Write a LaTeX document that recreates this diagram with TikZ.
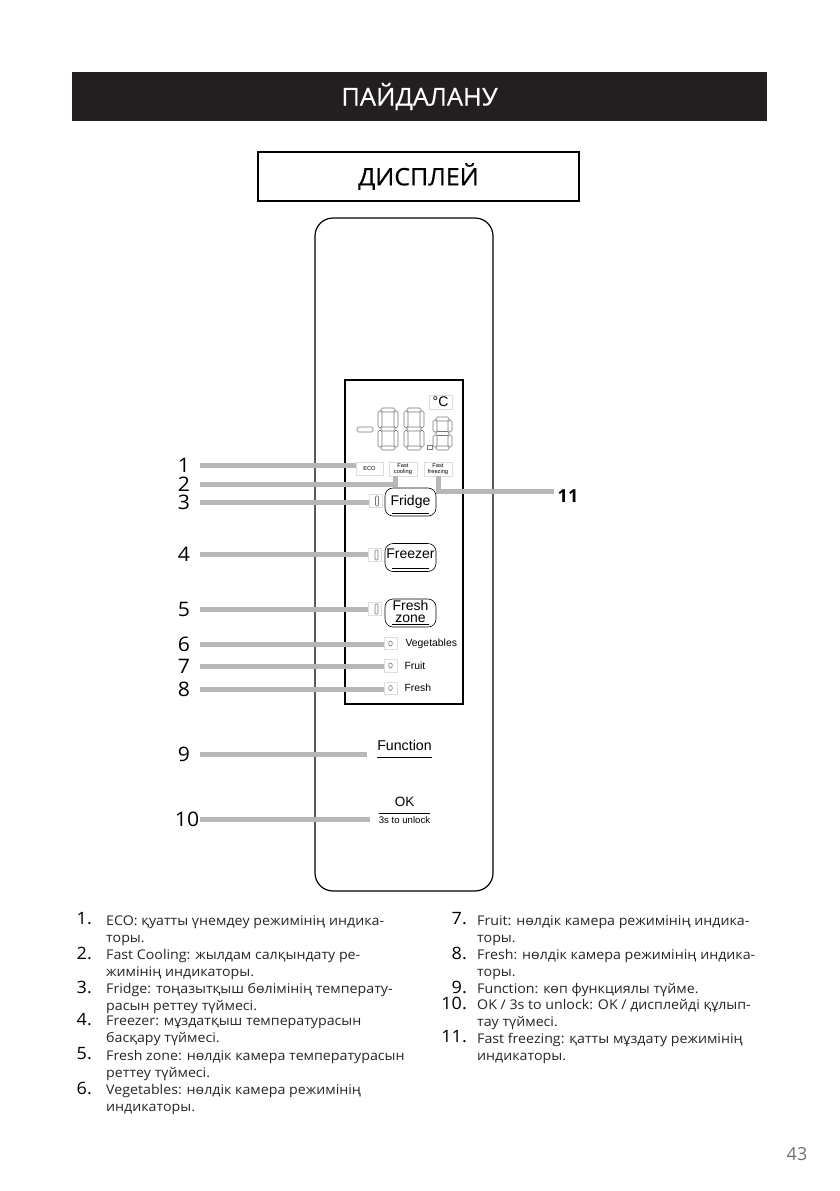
\documentclass[tikz,border=0pt]{standalone}
\usepackage{fontspec}
\setmainfont{Open Sans}
\newfontfamily\bodyfont[FakeStretch=1.06]{Open Sans}
\newfontfamily\headfont[FakeStretch=1.04,FakeBold=0.4]{Open Sans}
\newfontfamily\arialfont{Liberation Sans}
\usetikzlibrary{positioning,calc}

\definecolor{barblack}{HTML}{231F20}
\definecolor{leadergray}{HTML}{B7B7B7}
\definecolor{segmentgray}{HTML}{777777}
\definecolor{ledgray}{HTML}{DDDDDD}

\tikzset{
	leader/.style = {draw=leadergray, line width=5pt},
	numlabel/.style = {inner sep=0pt, minimum width=32pt, font=\bodyfont\fontsize{20}{20}\selectfont},
	listnum/.style = {inner sep=0pt, anchor=east, font=\bodyfont\fontsize{17}{17}\selectfont},
	listtext/.style = {inner sep=0pt, anchor=north west, align=left, text=black!85, font=\bodyfont\fontsize{13.4}{17}\selectfont},
	btntext/.style = {inner sep=0pt, align=center, font=\arialfont\fontsize{14}{12}\selectfont},
	button/.style = {draw, line width=0.6pt, rounded corners=8pt, inner sep=0pt, minimum width=51pt, minimum height=28pt},
	ledbox/.style = {draw=ledgray, line width=0.7pt, inner sep=0pt, minimum width=13pt, minimum height=13pt},
	indbox/.style = {draw=ledgray, line width=0.7pt, inner sep=0pt, minimum height=14pt, align=center, font=\arialfont\fontsize{5.7}{6.3}\selectfont},
	smalltext/.style = {inner sep=0pt, anchor=west, font=\arialfont\fontsize{10.4}{11}\selectfont},
	segment/.style = {draw=segmentgray, line width=0.6pt, rounded corners=1.5pt},
}

% one digit of the display: left, top, width, height
\newcommand{\segdigit}[4]{
	\pgfmathsetmacro{\xr}{#1+#3}
	\pgfmathsetmacro{\yb}{#2+#4}
	\pgfmathsetmacro{\ym}{#2+#4/2}
	\draw [segment] (#1+3,#2) rectangle (\xr-3,#2+4);
	\draw [segment] (#1+3,\ym-2) rectangle (\xr-3,\ym+2);
	\draw [segment] (#1+3,\yb-4) rectangle (\xr-3,\yb);
	\draw [segment] (#1,#2+3) rectangle (#1+4,\ym-1.5);
	\draw [segment] (#1,\ym+1.5) rectangle (#1+4,\yb-3);
	\draw [segment] (\xr-4,#2+3) rectangle (\xr,\ym-1.5);
	\draw [segment] (\xr-4,\ym+1.5) rectangle (\xr,\yb-3);
}

\begin{document}
\begin{tikzpicture}[x=1pt, y=-1pt]
	\useasboundingbox [fill=white] (0,0) rectangle (839,1191);

	\node [fill=barblack, text=white, inner sep=0pt, minimum width=695pt, minimum height=49pt,
		font=\headfont\fontsize{24.5}{25}\selectfont] (title) at (419.5,96.5) {\raisebox{1pt}{ПАЙДАЛАНУ}};
	\node [draw, line width=1.8pt, inner sep=0pt, minimum width=321pt, minimum height=49pt,
		font=\headfont\fontsize{24}{25}\selectfont] (subtitle) at (418.5,176.5) {\raisebox{-1pt}{ДИСПЛЕЙ}};

	\node [draw, line width=1.2pt, rounded corners=18pt, inner sep=0pt, minimum width=178pt, minimum height=673pt] (panel) at (404,554.5) {};
	\node [draw, line width=1.8pt, inner sep=0pt, minimum width=118pt, minimum height=324pt] (display) at (404,542) {};

	% digits
	\draw [segment] (357,427) rectangle (373,432);
	\segdigit{378}{408}{20}{42}
	\segdigit{404}{408}{20}{42}
	\segdigit{433}{417}{19}{33}
	\node [draw=segmentgray, line width=0.5pt, inner sep=0pt, minimum size=4.5pt] (point) at (429.5,447) {};
	\node [draw=ledgray, line width=0.7pt, inner sep=0pt, minimum width=23pt, minimum height=14pt,
		font=\arialfont\fontsize{14}{14}\selectfont] (degree) at (440.5,402) {°C};

	\node [indbox, minimum width=27pt, minimum height=13pt] (eco) at (369.5,468.5) {ECO};
	\node [indbox, minimum width=28pt] (fastcool) at (403,469) {Fast\\cooling};
	\node [indbox, minimum width=28pt] (fastfreeze) at (438,469) {Fast\\freezing};

	\node [button, label={[btntext,yshift=0pt]center:Fridge}] (fridge) at (410.5,502) {};
	\node [button, label={[btntext,yshift=3.5pt]center:Freezer}] (freezer) at (410.5,557.5) {};
	\node [button, label={[btntext,yshift=2pt]center:Fresh\\zone}] (freshzone) at (410.5,613) {};
	\foreach \b in {fridge,freezer,freshzone}
		\draw [line width=0.8pt] ($(\b.south west)+(7,-3)$) -- ($(\b.south east)+(-7,-3)$);

	\node [ledbox] (ledfridge) at (375.5,501) {};
	\node [ledbox] (ledfreezer) at (375,555) {};
	\node [ledbox] (ledfresh) at (375,609) {};
	\foreach \l in {ledfridge,ledfreezer,ledfresh}
		\draw [segment, rounded corners=1pt] ($(\l.center)+(0,-5)$) rectangle ($(\l.center)+(3,5)$);

	\node [ledbox, minimum height=12pt] (boxveg) at (390.5,643.5) {};
	\node [ledbox] (boxfruit) at (390.5,665.5) {};
	\node [ledbox, minimum height=12pt] (boxfresh) at (390.5,688) {};
	\foreach \l in {boxveg,boxfruit,boxfresh}
		\draw [segment] (\l.center) ellipse [x radius=1.8, y radius=2.6];

	\node [smalltext, right = 8pt of boxveg] (veg) {Vegetables};
	\node [smalltext, right = 7pt of boxfruit] (fruit) {Fruit};
	\node [smalltext, right = 7pt of boxfresh] (fresh) {Fresh};

	\node [inner sep=0pt, font=\arialfont\fontsize{14.2}{14}\selectfont] (func) at (404.5,745) {Function};
	\node [inner sep=0pt, font=\arialfont\fontsize{13.5}{14}\selectfont] (ok) at (404.5,802) {OK};
	\node [inner sep=0pt, font=\arialfont\fontsize{9.6}{10}\selectfont] (unlock) at (404.5,820) {3s to unlock};
	\draw [line width=0.7pt] ($(func.south west)+(0,7)$) -- ($(func.south east)+(0,7)$);
	\draw [line width=0.7pt] ($(unlock.north west)+(0,-3)$) -- ($(unlock.north east)+(0,-3)$);

	% numbers and leaders
	\node [numlabel] (n1) at (184,465) {1};
	\node [numlabel] (n2) at (184,484) {2};
	\node [numlabel] (n3) at (184,502) {3};
	\node [numlabel] (n4) at (184,554) {4};
	\node [numlabel] (n5) at (184,609) {5};
	\node [numlabel] (n6) at (184,644) {6};
	\node [numlabel] (n7) at (184,666) {7};
	\node [numlabel] (n8) at (184,689) {8};
	\node [numlabel] (n9) at (184,754) {9};
	\node [numlabel, minimum width=26pt] (n10) at (187,819) {10};
	\node [numlabel, font=\bfseries\fontsize{18}{18}\selectfont] (n11) at (568,496) {11};

	\draw [leader] (n1.east) -- (n1.east -| eco.west);
	\draw [leader] (n2.east) -| ($(fastcool.south)+(-7.5,0)$);
	\draw [leader] (n3.east) -- (n3.east -| ledfridge.west);
	\draw [leader] (n4.east) -- (n4.east -| ledfreezer.west);
	\draw [leader] (n5.east) -- (n5.east -| ledfresh.west);
	\draw [leader] (n6.east) -- (n6.east -| boxveg.west);
	\draw [leader] (n7.east) -- (n7.east -| boxfruit.west);
	\draw [leader] (n8.east) -- (n8.east -| boxfresh.west);
	\draw [leader, shorten >=10pt] (n9.east) -- (n9.east -| func.west);
	\draw [leader, shorten >=9pt] (n10.east) -- (n10.east -| unlock.west);
	\draw [leader] (fastfreeze.south) |- ($(n11.center)+(-14,-5)$);

	% list, left column
	\foreach \i/\y/\txt in {
		1/915/{ECO: қуатты үнемдеу режимінің индика-\\торы.},
		2/949/{Fast Cooling: жылдам салқындату ре-\\жимінің индикаторы.},
		3/983/{Fridge: тоңазытқыш бөлімінің температу-\\расын реттеу түймесі.},
		4/1016/{Freezer: мұздатқыш температурасын\\басқару түймесі.},
		5/1050/{Fresh zone: нөлдік камера температурасын\\реттеу түймесі.},
		6/1084/{Vegetables: нөлдік камера режимінің\\индикаторы.}}
	{
		\node [listtext] (t\i) at (106,\y) {\txt};
		\node [listnum] (m\i) at (92,\y+4) {\i.};
	}

	% list, right column
	\foreach \i/\y/\txt in {
		7/915/{Fruit: нөлдік камера режимінің индика-\\торы.},
		8/949/{Fresh: нөлдік камера режимінің индика-\\торы.},
		9/983/{Function: көп функциялы түйме.},
		10/999/{OK / 3s to unlock: OK / дисплейді құлып-\\тау түймесі.},
		11/1033/{Fast freezing: қатты мұздату режимінің\\индикаторы.}}
	{
		\node [listtext] (t\i) at (477,\y) {\txt};
		\node [listnum] (m\i) at (467,\y+4) {\i.};
	}

	\node [inner sep=0pt, text=black!55, font=\fontsize{18}{18}\selectfont] (page) at (797,1154) {43};
\end{tikzpicture}
\end{document}
